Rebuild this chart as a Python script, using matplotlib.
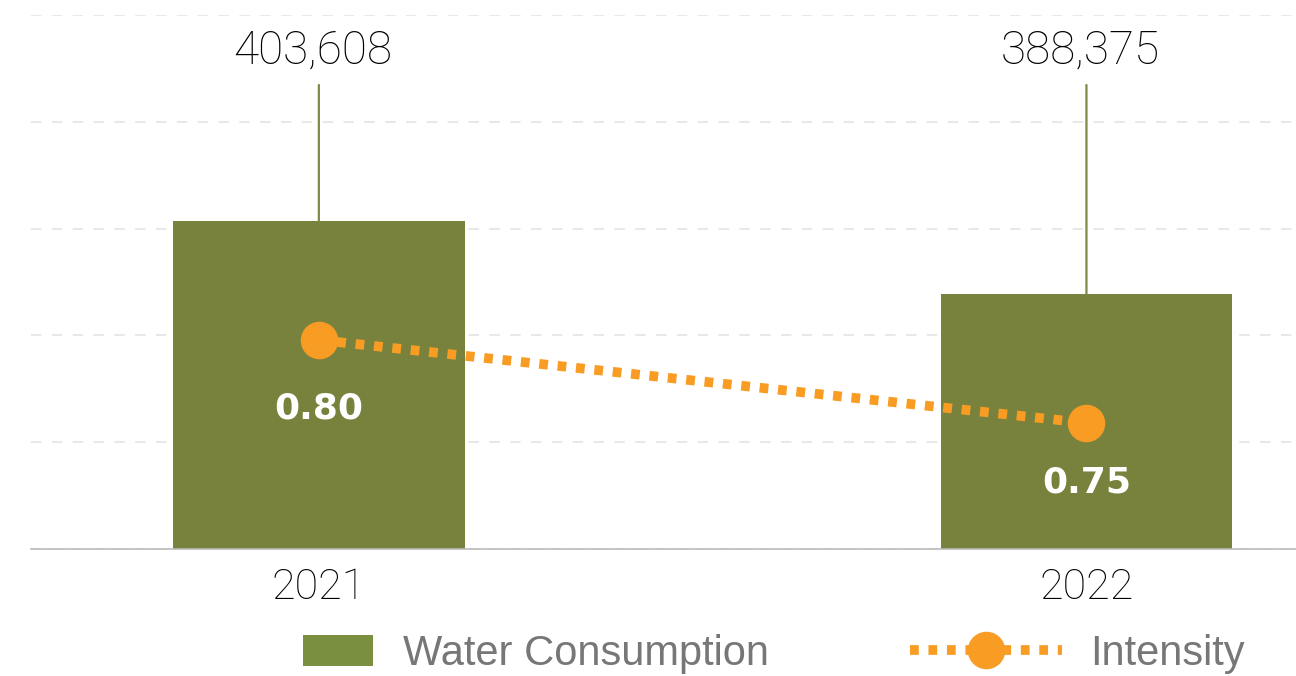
import matplotlib.pyplot as plt
import numpy as np
from matplotlib.patches import Patch
from matplotlib.lines import Line2D

years = ['2021', '2022']
water = [403608, 388375]
intensity = [0.80, 0.75]

green = '#78823d'
orange = '#f89c24'

plt.rcParams['font.family'] = ['Roboto', 'DejaVu Sans']

fig = plt.figure(figsize=(12.96, 6.76), dpi=100)
ax = fig.add_axes([31 / 1296, 1 - 549 / 676, 1 - 31 / 1296, 534 / 676])

x = np.arange(len(years))
ax.bar(x, water, width=0.38, color=green, zorder=2)

# bars sit on a raised base, so the axis doesn't start at zero
ylo, yhi = 335164, 446594
ax.set_ylim(ylo, yhi)
ax.set_xlim(-0.375, 1.273)
ax.set_yticks(np.linspace(ylo, yhi, 6))
ax.set_yticklabels([])
ax.grid(axis='y', color='#e8e8e8', linestyle=(0, (5, 5)), linewidth=1.5, zorder=0)
ax.tick_params(length=0)
ax.tick_params(axis='x', pad=13)
ax.set_xticks(x)
ax.set_xticklabels(years, fontsize=31, fontweight='light', color='black')
for s in ['top', 'left', 'right']:
    ax.spines[s].set_visible(False)
ax.spines['bottom'].set_color('#bbbbbb')
ax.spines['bottom'].set_linewidth(1.2)

# totals sit above the plot with a leader line down to the bar
for xi, v in zip(x, water):
    ax.annotate('', xy=(xi, v), xycoords='data',
                xytext=(xi, 0.869), textcoords=('data', 'axes fraction'),
                arrowprops=dict(arrowstyle='-', color='#7d8a45', lw=1.6,
                                shrinkA=0, shrinkB=0))
    ax.text(xi - 0.008, 0.934, f'{v:,}', transform=ax.get_xaxis_transform(),
            ha='center', va='center', fontsize=33, fontweight='light',
            color='black')

ax2 = ax.twinx()
ax2.set_ylim(0.6741, 0.9958)
ax2.axis('off')
ax2.plot(x, intensity, color=orange, linewidth=7, linestyle=(0, (0.9, 1.0)),
         dash_capstyle='butt', marker='o', markersize=26, zorder=3)

label_offsets = [-68, -59]
for xi, v, off in zip(x, intensity, label_offsets):
    ax2.annotate(f'{v:.2f}', xy=(xi, v), xytext=(0, off * 0.72),
                 textcoords='offset points', ha='center', va='center',
                 fontsize=26, fontweight='bold', color='white',
                 family='DejaVu Sans')

# legend entries are placed separately to keep their own handle lengths
fs = 30
em = fs * 100 / 72

h1 = Patch(facecolor='#7b8f40', edgecolor='none')
leg1 = fig.legend([h1], ['Water Consumption'], loc='center left',
                  bbox_to_anchor=(303 / 1296, 1 - 654 / 676), frameon=False,
                  prop={'family': 'Liberation Sans', 'size': fs},
                  handlelength=70 / em, handleheight=31 / em,
                  handletextpad=30 / em, borderpad=0, borderaxespad=0)
for t in leg1.get_texts():
    t.set_color('#777777')

h2 = Line2D([], [], color=orange, linewidth=7, linestyle=(0, (0.9, 1.0)),
            dash_capstyle='butt', marker='o', markersize=26)
leg2 = fig.legend([h2], ['Intensity'], loc='center left',
                  bbox_to_anchor=(910 / 1296, 1 - 654 / 676), frameon=False,
                  prop={'family': 'Liberation Sans', 'size': fs},
                  handlelength=152 / em, numpoints=1,
                  handletextpad=28 / em, borderpad=0, borderaxespad=0)
for t in leg2.get_texts():
    t.set_color('#777777')

plt.savefig('out.png', dpi=100)
plt.close()
